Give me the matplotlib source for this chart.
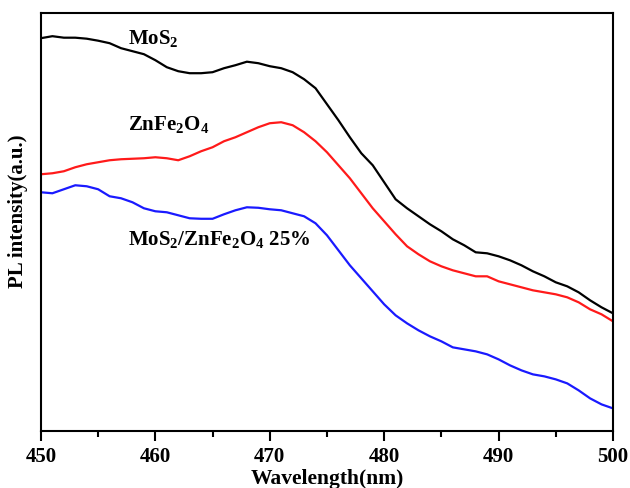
import numpy as np
import matplotlib
matplotlib.use('Agg')
import matplotlib.pyplot as plt
from matplotlib.ticker import MultipleLocator

plt.rcParams['font.family'] = 'Liberation Serif'
plt.rcParams['font.weight'] = 'bold'
plt.rcParams['mathtext.fontset'] = 'custom'
plt.rcParams['mathtext.rm'] = 'Liberation Serif:bold'
plt.rcParams['mathtext.bf'] = 'Liberation Serif:bold'

# PL spectra, 1 nm steps (a.u.)
wavelength = np.arange(450, 501)

mos2 = [393, 395, 393.5, 393.5, 392.5, 390.5, 388, 383, 380, 377,
        371, 364, 360, 358, 358, 359, 363, 366, 369.5, 368,
        365, 363, 359, 352, 343, 327, 311, 294, 278, 266,
        249, 232, 223, 215, 207, 200, 192, 186, 179, 178,
        175, 171, 166, 160, 155, 149, 145, 139, 131, 124, 118]

znfe2o4 = [257, 258, 260, 264, 267, 269, 271, 272, 272.5, 273,
           274, 273, 271, 275, 280, 284, 290, 294, 299, 304,
           308, 309, 306, 299, 290, 279, 266, 253, 238, 223,
           210, 197, 185, 177, 170, 165, 161, 158, 155, 155,
           150, 147, 144, 141, 139, 137, 134, 129, 122, 117, 110]

composite = [239, 238, 242, 246, 245, 242, 235, 233, 229, 223,
             220, 219, 216, 213, 212.5, 212.5, 217, 221, 224, 223.5,
             222, 221, 218, 215, 208, 196, 181, 166, 153, 140,
             127, 116, 108, 101, 95, 90, 84, 82, 80, 77,
             72, 66, 61, 57, 55, 52, 48, 41, 33, 27, 23]

fig = plt.figure(figsize=(6.3, 4.88), dpi=100)
ax = fig.add_axes([0.065, 0.116, 0.908, 0.857])

ax.plot(wavelength, mos2, color='black', lw=1.6)
ax.plot(wavelength, znfe2o4, color='#ff1a1a', lw=1.6)
ax.plot(wavelength, composite, color='#1a1aff', lw=1.6)

ax.set_xlim(450, 500)
ax.set_ylim(0, 418)
ax.xaxis.set_major_locator(MultipleLocator(10))
ax.xaxis.set_minor_locator(MultipleLocator(5))
ax.tick_params(axis='x', which='major', direction='out', length=7, width=1.5,
               labelsize=15, pad=4)
ax.tick_params(axis='x', which='minor', direction='out', length=4, width=1.5)
ax.set_yticks([])
for sp in ax.spines.values():
    sp.set_linewidth(1.5)

ax.set_xlabel('Wavelength(nm)', fontsize=15.5, fontweight='bold', labelpad=2)
ax.set_ylabel('PL intensity(a.u.)', fontsize=15, fontweight='bold')
ax.yaxis.set_label_coords(-0.023, 0.526)

ax.text(457.6, 392, r'MoS$_2$', fontsize=15, va='center', ha='left')
ax.text(457.6, 306, r'ZnFe$_2$O$_4$', fontsize=15, va='center', ha='left')
ax.text(457.6, 191, r'MoS$_2$/ZnFe$_2$O$_4$ 25%', fontsize=15, va='center', ha='left')

fig.savefig('out.png', dpi=100)
